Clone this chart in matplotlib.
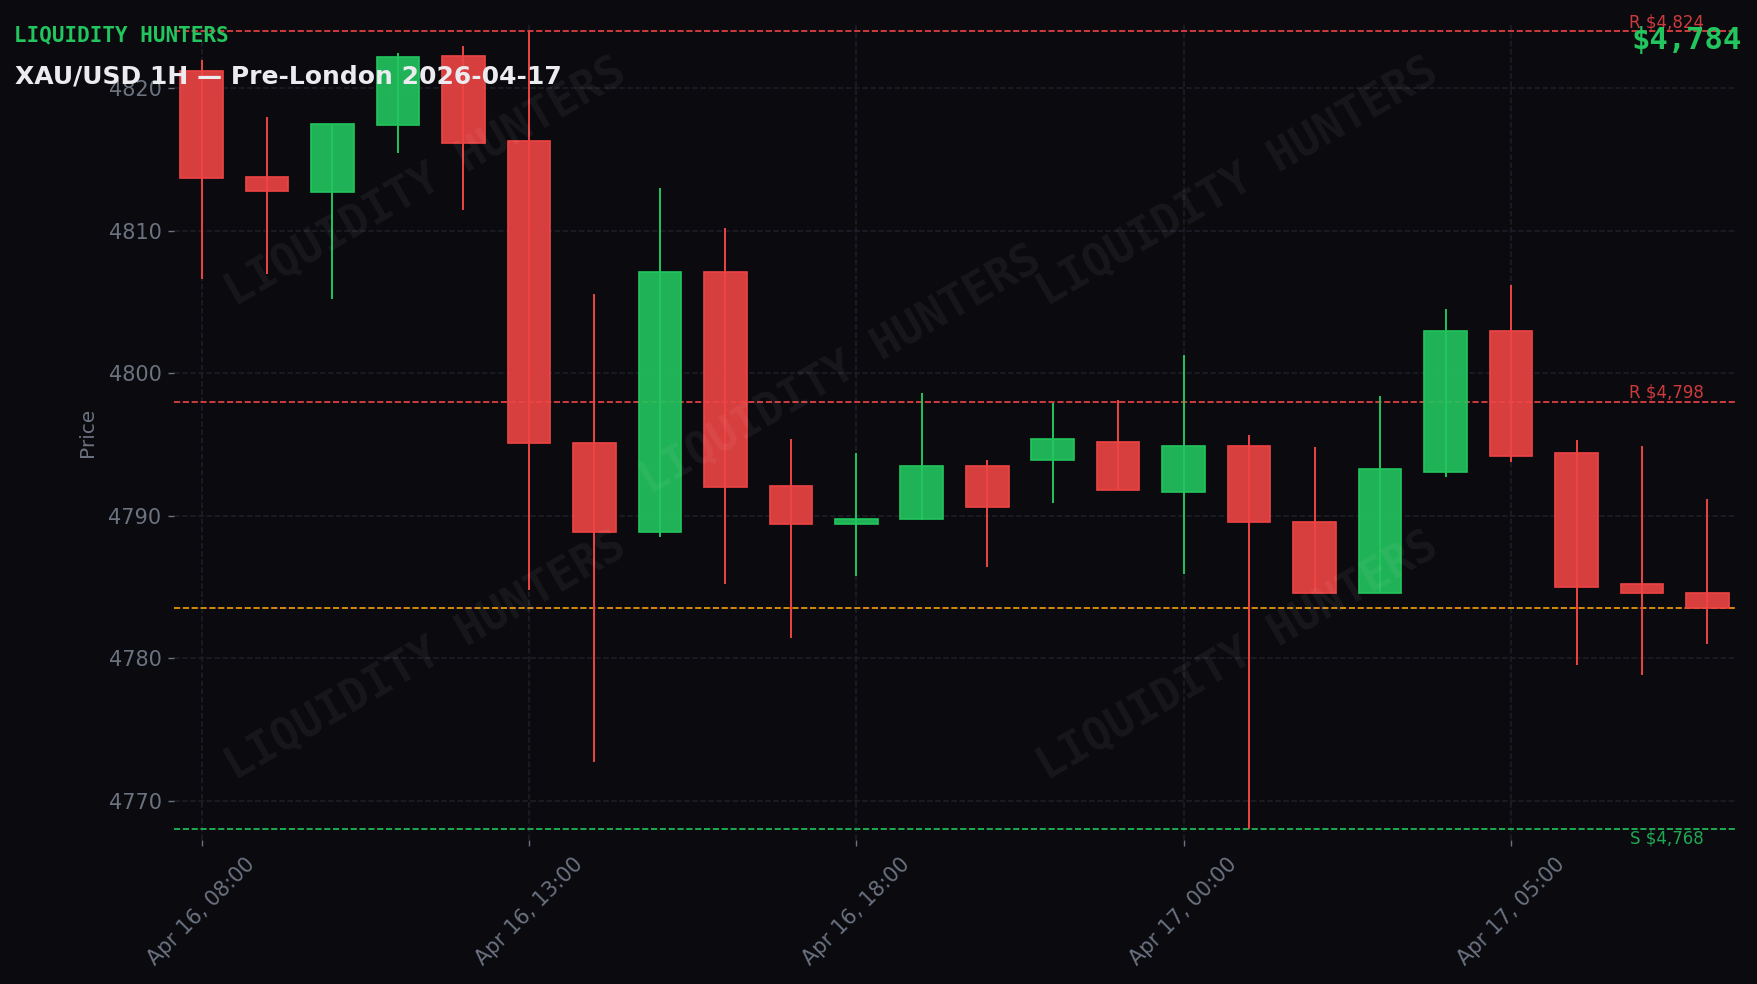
import matplotlib
matplotlib.use("Agg")
import matplotlib.pyplot as plt
from matplotlib.ticker import MultipleLocator
import pandas as pd

# ---------------- data ----------------
times = (list(pd.date_range("2026-04-16 08:00", "2026-04-16 20:00", freq="h"))
         + list(pd.date_range("2026-04-16 22:00", "2026-04-17 08:00", freq="h")))
opens = [4821.2, 4813.8, 4812.7, 4817.4, 4822.3, 4816.3, 4795.1, 4788.9, 4807.1, 4792.1,
         4789.4, 4789.8, 4793.5, 4793.9, 4795.2, 4791.7, 4794.9, 4789.6, 4784.6, 4793.1,
         4803.0, 4794.4, 4785.2, 4784.6]
highs = [4822.0, 4818.0, 4817.5, 4822.5, 4823.0, 4824.0, 4805.6, 4813.0, 4810.2, 4795.4,
         4794.4, 4798.6, 4793.9, 4797.9, 4798.1, 4801.3, 4795.7, 4794.8, 4798.4, 4804.5,
         4806.2, 4795.3, 4794.9, 4791.2]
lows = [4806.6, 4807.0, 4805.2, 4815.5, 4811.5, 4784.8, 4772.7, 4788.5, 4785.2, 4781.4,
        4785.8, 4789.7, 4786.4, 4790.9, 4791.8, 4785.9, 4768.0, 4784.6, 4784.6, 4792.7,
        4793.8, 4779.5, 4778.8, 4781.0]
closes = [4813.7, 4812.8, 4817.5, 4822.2, 4816.2, 4795.1, 4788.9, 4807.1, 4792.0, 4789.4,
          4789.8, 4793.5, 4790.6, 4795.4, 4791.8, 4794.9, 4789.6, 4784.6, 4793.3, 4803.0,
          4794.2, 4785.0, 4784.6, 4783.5]
resistances = [4824, 4798]
supports = [4768]
title = "XAU/USD 1H — Pre-London 2026-04-17"
brand = "LIQUIDITY HUNTERS"

# ---------------- style ----------------
BG = "#0a0a0f"
GREEN = "#22c55e"
RED = "#ef4444"
ORANGE = "#f59e0b"
GREY = "#6b7280"
GRID = "#1e1f28"

fig = plt.figure(figsize=(17.58, 9.84), dpi=100, facecolor=BG)
ax = fig.add_axes([0.0990, 0.1463, 0.8879, 0.8283], facecolor=BG)

n = len(opens)
xs = list(range(n))
up = [c >= o for o, c in zip(opens, closes)]
cols = [GREEN if u else RED for u in up]

# wicks
ax.vlines(xs, lows, highs, colors=cols, linewidth=1.4, zorder=3)
# bodies
bottoms = [min(o, c) for o, c in zip(opens, closes)]
heights = [max(abs(c - o), 0.05) for o, c in zip(opens, closes)]
for x, b, h, col in zip(xs, bottoms, heights, cols):
    ax.bar(x, h, bottom=b, width=0.65, color=col, alpha=0.9, zorder=4,
           edgecolor="none")
    ax.bar(x, h, bottom=b, width=0.65, facecolor="none", edgecolor=col,
           linewidth=1.2, zorder=5)

# levels
for r in resistances:
    ax.axhline(r, color=RED, linestyle="--", linewidth=1.2, zorder=2)
    ax.text(n - 1.05, r, f"R ${r:,.0f}", color=RED, alpha=0.85, fontsize=12,
            ha="right", va="bottom", zorder=6)
for s in supports:
    ax.axhline(s, color=GREEN, linestyle="--", linewidth=1.2, zorder=2)
    ax.text(n - 1.05, s, f"S ${s:,.0f}", color=GREEN, alpha=0.85, fontsize=12,
            ha="right", va="top", zorder=6)
current = closes[-1]
ax.axhline(current, color=ORANGE, linestyle="--", linewidth=1.2, zorder=2)

ax.set_xlim(-0.42, n - 1 + 0.42)
ax.set_ylim(4767.25, 4824.45)
ax.yaxis.set_major_locator(MultipleLocator(10))

tick_idx = xs[::5]
ax.set_xticks(tick_idx)
ax.set_xticklabels([times[i].strftime("%b %d, %H:%M") for i in tick_idx],
                   rotation=45, ha="center")
ax.tick_params(axis="both", colors=GREY, labelsize=15, length=4, width=1)
ax.tick_params(axis="x", pad=6)
ax.tick_params(axis="y", pad=5)
ax.set_ylabel("Price", color=GREY, fontsize=14.5, labelpad=8)
ax.grid(True, color=GRID, linestyle="--", linewidth=1.1)
ax.set_axisbelow(True)
for sp in ax.spines.values():
    sp.set_visible(False)

# header texts
fig.text(0.0077, 1 - 41.7 / 984, brand, color=GREEN, fontsize=15,
         family="DejaVu Sans Mono", fontweight="bold", va="baseline", ha="left")
fig.text(0.0085, 1 - 83.3 / 984, title, color="#ebebf0", fontsize=18,
         fontweight="bold", va="baseline", ha="left")
fig.text(0.9905, 1 - 49.3 / 984, f"${current:,.0f}", color=GREEN, fontsize=22,
         family="DejaVu Sans Mono", fontweight="bold", va="baseline", ha="right")

# watermarks
for wx, wy in [(0.242, 0.815), (0.704, 0.815), (0.478, 0.624),
               (0.242, 0.333), (0.704, 0.333)]:
    fig.text(wx, wy, brand, color="white", alpha=0.055, fontsize=32,
             family="DejaVu Sans Mono", fontweight="bold", rotation=30,
             ha="center", va="center")

fig.savefig("out.png", dpi=100, facecolor=BG)
